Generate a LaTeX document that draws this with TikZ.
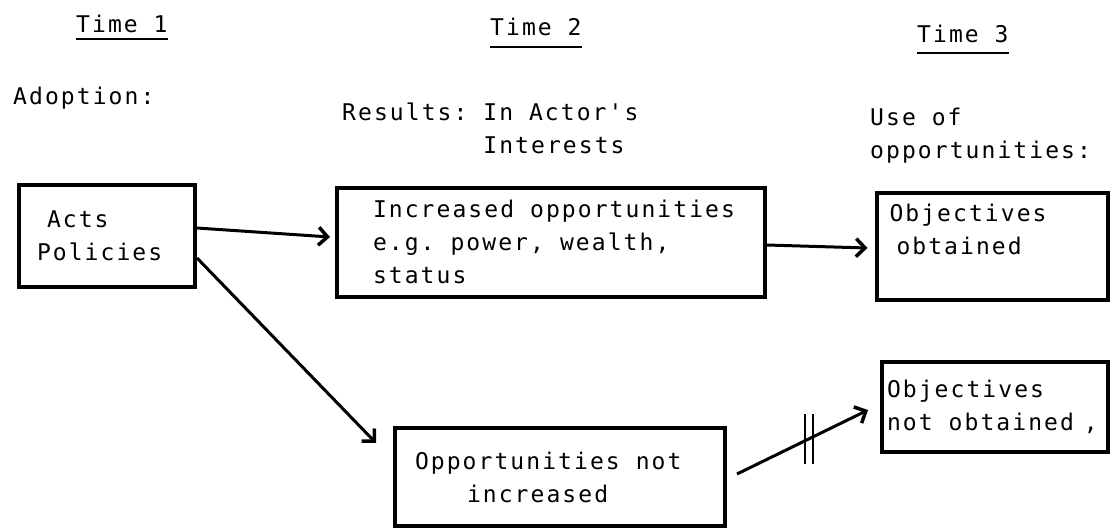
\documentclass[tikz,border=0pt]{standalone}
\usepackage{fontspec}
\usepackage{tikz}
\usetikzlibrary{arrows.meta}
\newfontfamily\typefont[LetterSpace=9]{DejaVu Sans Mono}
\newcommand{\typeset}{\typefont\fontsize{23}{33}\selectfont\frenchspacing}
\newcommand{\blocked}{\tikz{\draw[-, line width=2.5pt] (0pt,0pt) -- (0pt,50pt) (8pt,0pt) -- (8pt,50pt);}}
\tikzset{next/.style={-{Straight Barb[length=9pt, width=18pt, line width=3.5pt]}, line width=3pt}}
\tikzset{sparsam/.style={inner sep=0pt}}
\tikzset{box/.style={draw, line width=4pt, align=left, inner sep=0pt,
    execute at begin node={\spaceskip=16pt\xspaceskip=16pt\relax}}}
\tikzset{uline/.style={line width=2pt}}

\begin{document}
\begin{tikzpicture}[x=1pt, y=-1pt, every node/.style={font=\typeset}]
  \useasboundingbox (0,0) rectangle (1111,531);

  % --- time 1: adoption ---
  \node[anchor=base west, sparsam] (t1) at (76,32) {Time 1};
  \draw[uline] ([yshift=-7pt]t1.base west) -- ([yshift=-7pt]t1.base east);
  \node[anchor=base west, sparsam] (adopt) at (13,104) {Adoption:};

  \node[box, minimum width=176pt, minimum height=102pt, text width=140pt] (acts) at (107,236)
    {\hspace*{10pt}Acts\\Policies};

  % --- time 2: results ---
  \node[anchor=base west, sparsam] (t2) at (490,35) {Time 2};
  \draw[uline] ([yshift=-12pt]t2.base west) -- ([yshift=-12pt]t2.base east);
  \node[anchor=north west, sparsam, align=left] (results) at (342,103)
    {Results: In Actor's\\\phantom{Results: }Interests};

  \node[box, minimum width=428pt, minimum height=109pt, text width=356pt] (incr) at (551,242)
    {\mbox{Increased opportunities}\\e.g. power, wealth,\\status};
  \node[box, minimum width=330pt, minimum height=98pt, text width=290pt] (opp) at (560,477)
    {Opportunities not\\\hspace*{52pt}increased};

  % --- time 3: use of opportunities ---
  \node[anchor=base west, sparsam] (t3) at (917,42) {Time 3};
  \draw[uline] ([yshift=-11pt]t3.base west) -- ([yshift=-11pt]t3.base east);
  \node[anchor=north west, sparsam, align=left] (use) at (870,108)
    {Use of\\opportunities:};

  \node[box, minimum width=231pt, minimum height=107pt, text width=205pt] (obj) at (992,246)
    {Objectives\\\hspace*{7pt}obtained\\\mbox{}};
  \node[box, minimum width=226pt, minimum height=90pt, text width=216pt] (objnot) at (995,407)
    {Objectives\\\mbox{not obtained\hspace*{10pt},}};

  % --- arrows ---
  \draw[next] ([yshift=8pt]acts.east) -- ([xshift=-5pt,yshift=5pt]incr.west);
  \draw[next] ([yshift=-3pt]incr.east) -- ([xshift=-7pt,yshift=-2pt]obj.west);
  \draw[next] ([yshift=-22pt]acts.east) -- ([xshift=-17pt,yshift=-17pt]opp.north west);
  \draw[next] ([xshift=10pt,yshift=3pt]opp.east) -- node[pos=.55, sparsam] {\blocked}
    ([xshift=-12pt,yshift=-3pt]objnot.west);

\end{tikzpicture}
\end{document}
